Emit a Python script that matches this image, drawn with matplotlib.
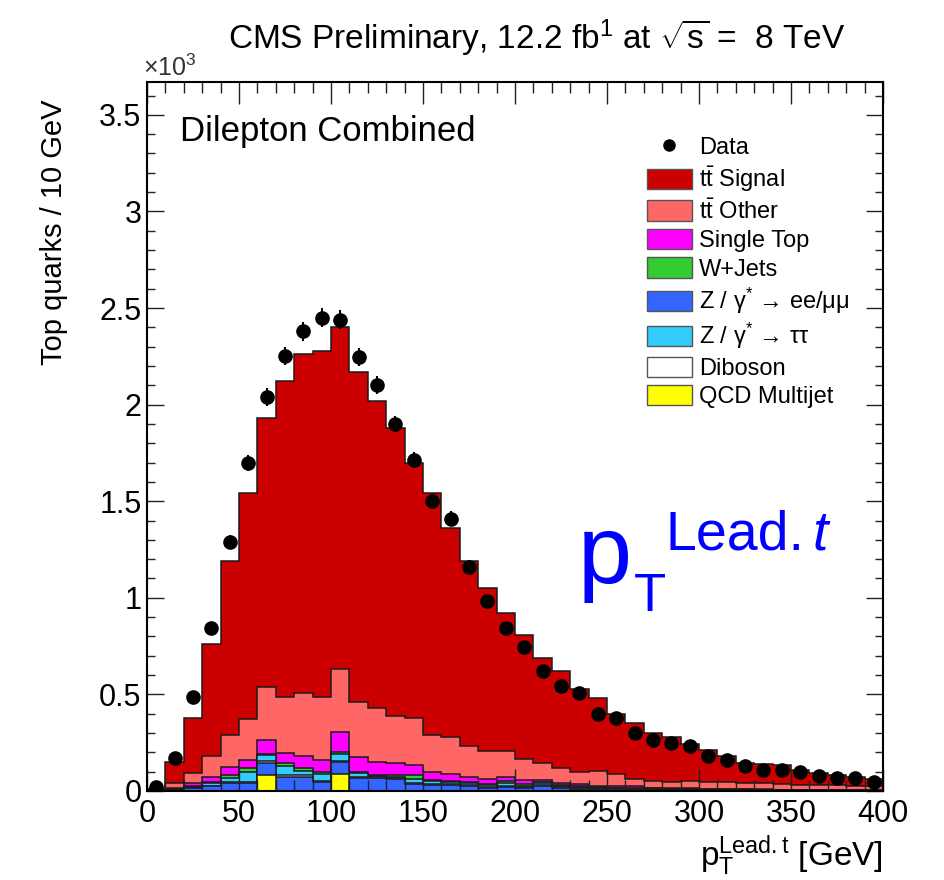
import numpy as np
import matplotlib
matplotlib.use("Agg")
import matplotlib.pyplot as plt
from matplotlib.patches import Patch
from matplotlib.lines import Line2D

plt.rcParams['font.family'] = ['Liberation Sans', 'DejaVu Sans']
plt.rcParams['mathtext.fontset'] = 'custom'
plt.rcParams['mathtext.rm'] = 'Liberation Sans'
plt.rcParams['mathtext.it'] = 'Liberation Sans:italic'
plt.rcParams['mathtext.sf'] = 'Liberation Sans'

# binning: 40 bins of 10 GeV, leading top pT
bin_edges = np.arange(0, 410, 10)

# events per bin
data = [20, 170, 485, 845, 1290, 1700, 2040, 2250, 2380, 2450,
        2440, 2245, 2100, 1900, 1715, 1500, 1410, 1160, 985, 845,
        747, 620, 546, 505, 400, 380, 300, 263, 250, 232,
        180, 160, 130, 108, 108, 98, 77, 67, 67, 46]

tt_signal = [4, 110, 285, 580, 900, 1167, 1393, 1635, 1755, 1795,
             1770, 1710, 1590, 1493, 1320, 1250, 1080, 958, 844, 715,
             645, 547, 500, 432, 376, 312, 287, 248, 232, 193,
             162, 133, 102, 98, 97, 75, 63, 52, 46, 37]

tt_other = [4, 26, 52, 106, 164, 213, 273, 290, 325, 322,
            323, 285, 278, 244, 245, 190, 190, 158, 146, 131,
            108, 85, 77, 63, 79, 63, 36, 34, 33, 39,
            36, 36, 33, 34, 30, 26, 24, 25, 21, 20]

single_top = [1, 3, 16, 26, 43, 43, 72, 52, 60, 63,
              103, 75, 69, 60, 52, 43, 36, 26, 24, 23,
              21, 10, 10, 9, 6, 8, 12, 5, 4, 3,
              3, 2, 2, 2, 2, 2, 1, 1, 1, 1]

w_jets = [0, 2, 4, 8, 18, 17, 8, 16, 15, 12,
          12, 9, 5, 8, 23, 7, 8, 9, 6, 12,
          9, 9, 6, 5, 4, 4, 3, 3, 2, 2,
          2, 2, 2, 1, 1, 1, 1, 1, 1, 1]

z_ll = [2, 5, 15, 25, 40, 40, 64, 74, 75, 48,
        62, 66, 66, 60, 36, 31, 30, 25, 18, 20,
        15, 27, 15, 12, 8, 7, 6, 5, 4, 4,
        3, 3, 3, 2, 2, 2, 2, 1, 1, 1]

z_tautau = [1, 3, 6, 12, 20, 55, 27, 43, 20, 35,
            35, 20, 8, 10, 20, 15, 12, 10, 8, 15,
            8, 8, 8, 6, 5, 4, 4, 3, 3, 2,
            2, 2, 2, 2, 1, 1, 1, 1, 1, 1]

diboson = [0, 1, 2, 3, 5, 5, 10, 10, 10, 5,
           5, 5, 4, 5, 4, 4, 4, 4, 4, 4,
           4, 4, 4, 3, 2, 2, 2, 2, 2, 2,
           2, 2, 1, 1, 1, 1, 1, 1, 1, 1]

qcd = [0, 0, 0, 0, 0, 0, 83, 0, 0, 0,
       90, 0, 0, 0, 0, 0, 0, 0, 0, 0,
       0, 0, 0, 0, 0, 0, 0, 0, 0, 0,
       0, 0, 0, 0, 0, 0, 0, 0, 0, 0]

# stack, bottom to top
stack = [
    (qcd, '#ffff00', 'QCD Multijet'),
    (z_ll, '#3366ff', r'Z / γ$^{*}$ → ee/μμ'),
    (diboson, '#ffffff', 'Diboson'),
    (z_tautau, '#33ccff', r'Z / γ$^{*}$ → ττ'),
    (w_jets, '#33cc33', 'W+Jets'),
    (single_top, '#ff00ff', 'Single Top'),
    (tt_other, '#ff6666', r't$\bar{\rm t}$ Other'),
    (tt_signal, '#cc0000', r't$\bar{\rm t}$ Signal'),
]

fig = plt.figure(figsize=(9.45, 8.8), dpi=100)
ax = fig.add_axes([147/945, 1-791/880, 736/945, 709/880])

cum = np.cumsum([np.array(s[0], float) for s in stack], axis=0) / 1e3
# draw from the top of the stack down, each filled from zero
for i in range(len(stack) - 1, -1, -1):
    ax.stairs(cum[i], bin_edges, baseline=0, fill=True,
              facecolor=stack[i][1], edgecolor='#1a1a1a', linewidth=1.1)

centers = 0.5 * (bin_edges[1:] + bin_edges[:-1])
data = np.array(data, float)
ax.errorbar(centers, data / 1e3, yerr=np.sqrt(data) / 1e3, fmt='o',
            color='black', ms=9.5, elinewidth=1.5, capsize=0, zorder=5)

ax.set_xlim(0, 400)
ax.set_ylim(0, 3.67)
ax.set_xticks(np.arange(0, 401, 50))
ax.set_xticks(np.arange(0, 401, 10), minor=True)
ax.set_yticks(np.arange(0, 3.6, 0.5))
ax.set_yticks(np.arange(0, 3.65, 0.1), minor=True)
ax.set_xticklabels([str(v) for v in range(0, 401, 50)])
ax.set_yticklabels(['0', '0.5', '1', '1.5', '2', '2.5', '3', '3.5'])
ax.tick_params(which='both', direction='in', top=True, right=True,
               labelsize=22, width=1.0, color='#222222')
ax.tick_params(axis='x', which='major', length=16, pad=6)
ax.tick_params(axis='x', which='minor', length=8)
ax.tick_params(axis='y', which='major', length=12, pad=4)
ax.tick_params(axis='y', which='minor', length=6)
for sp in ax.spines.values():
    sp.set_linewidth(1.5)

ax.set_ylabel('Top quarks / 10 GeV', fontsize=21)
ax.yaxis.set_label_coords(-0.107, 0.975, transform=ax.transAxes)
ax.yaxis.label.set_ha('right')
ax.set_xlabel(r'p$_{\rm T}^{\rm Lead.t}$ [GeV]', fontsize=24, ha='right')
ax.xaxis.set_label_coords(1.0, -0.06)

fig.text(537/945, 1-38/880,
         r'CMS Preliminary, 12.2 fb$^{1}$ at $\sqrt{\rm s}$ =  8 TeV',
         ha='center', va='center', fontsize=24)
fig.text(143/945, 1-68/880, r'$\times$10$^{3}$', ha='left', va='center',
         fontsize=18, color='#333333')
ax.text(0.045, 0.93, 'Dilepton Combined', transform=ax.transAxes,
        fontsize=25, ha='left', va='center')

# big blue label
fig.text(578/945, 1-583/880, 'p', color='#0000ff', fontsize=70, va='baseline')
fig.text(634/945, 1-611/880, 'T', color='#0000ff', fontsize=38, va='baseline')
fig.text(666/945, 1-550/880, 'Lead.', color='#0000ff', fontsize=40,
         va='baseline')
fig.text(812/945, 1-550/880, 't', color='#0000ff', fontsize=40,
         style='italic', va='baseline')

name_order = ['Data', r't$\bar{\rm t}$ Signal', r't$\bar{\rm t}$ Other',
              'Single Top', 'W+Jets', r'Z / γ$^{*}$ → ee/μμ',
              r'Z / γ$^{*}$ → ττ', 'Diboson', 'QCD Multijet']
hmap = {'Data': Line2D([], [], marker='o', ls='none', color='black', ms=8)}
for vals, col, lab in stack:
    hmap[lab] = Patch(facecolor=col, edgecolor='#555555', linewidth=1.0)
leg = ax.legend([hmap[n] for n in name_order], name_order,
                loc='upper left', bbox_to_anchor=(0.679, 0.924),
                frameon=False, fontsize=17, handlelength=1.9,
                handleheight=0.95, handletextpad=0.3, labelspacing=0.22,
                borderpad=0, borderaxespad=0)

fig.savefig('out.png', dpi=100)
